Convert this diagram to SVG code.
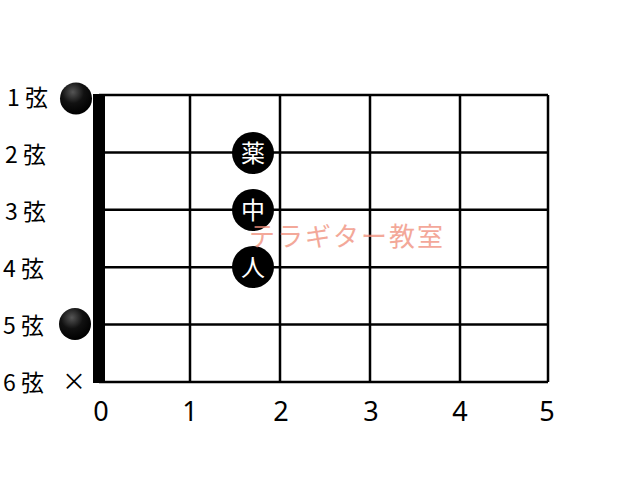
<svg xmlns="http://www.w3.org/2000/svg" width="640" height="480" viewBox="0 0 640 480">
<defs>
<radialGradient id="gloss" cx="0.4" cy="0.3" r="0.7">
<stop offset="0" stop-color="#555"/>
<stop offset="0.5" stop-color="#111"/>
<stop offset="1" stop-color="#000"/>
</radialGradient>
<style>
.grid{stroke:#000;stroke-width:2.5;fill:none}
.lbl{font-family:"Noto Sans CJK JP","Noto Sans",sans-serif;font-size:23px;fill:#000}
.num{font-family:"Noto Sans","DejaVu Sans",sans-serif;font-size:27px;fill:#000;text-anchor:middle}
.fing{fill:#000}
.ft{font-family:"Noto Sans CJK JP",sans-serif;font-size:24px;fill:#fff;text-anchor:middle}
.wm{font-family:"Noto Sans CJK JP",sans-serif;font-size:26px;fill:#f08c78;opacity:0.75;letter-spacing:2px}
</style>
</defs>
<rect width="640" height="480" fill="#fff"/>
<g id="connectors">
<g class="grid">
<line x1="99" y1="95" x2="548" y2="95"/>
<line x1="99" y1="152.4" x2="548" y2="152.4"/>
<line x1="99" y1="209.8" x2="548" y2="209.8"/>
<line x1="99" y1="267.2" x2="548" y2="267.2"/>
<line x1="99" y1="324.6" x2="548" y2="324.6"/>
<line x1="99" y1="382" x2="548" y2="382"/>
<line x1="190" y1="95" x2="190" y2="382"/>
<line x1="280" y1="95" x2="280" y2="382"/>
<line x1="370" y1="95" x2="370" y2="382"/>
<line x1="460" y1="95" x2="460" y2="382"/>
<line x1="548" y1="95" x2="548" y2="382"/>
</g>
<rect id="nut" x="93" y="94" width="12" height="289" fill="#000"/>
</g>
<g id="string-labels">
<text class="lbl" x="7" y="106">1 弦</text>
<text class="lbl" x="5" y="163">2 弦</text>
<text class="lbl" x="5" y="220">3 弦</text>
<text class="lbl" x="3" y="277">4 弦</text>
<text class="lbl" x="3" y="334">5 弦</text>
<text class="lbl" x="3" y="391">6 弦</text>
</g>
<g id="fret-numbers">
<text class="num" x="101" y="421">0</text>
<text class="num" x="190" y="421">1</text>
<text class="num" x="281" y="421">2</text>
<text class="num" x="371" y="421">3</text>
<text class="num" x="460" y="421">4</text>
<text class="num" x="547" y="421">5</text>
</g>
<g id="open1"><circle cx="76" cy="98.5" r="16" fill="url(#gloss)"/></g>
<g id="open5"><circle cx="75" cy="324" r="16" fill="url(#gloss)"/></g>
<g id="mute6"><text x="74" y="390" font-family="Noto Sans CJK JP,sans-serif" font-size="24" text-anchor="middle" fill="#000">×</text></g>
<g id="finger-kusuri"><circle class="fing" cx="253" cy="153" r="21"/><text class="ft" x="253" y="161.5">薬</text></g>
<g id="finger-naka"><circle class="fing" cx="253" cy="210" r="21"/><text class="ft" x="253" y="218.5">中</text></g>
<g id="finger-hito"><circle class="fing" cx="253" cy="267" r="21"/><text class="ft" x="253" y="276">人</text></g>
<text class="wm" x="249" y="246">テラギター教室</text>
</svg>
